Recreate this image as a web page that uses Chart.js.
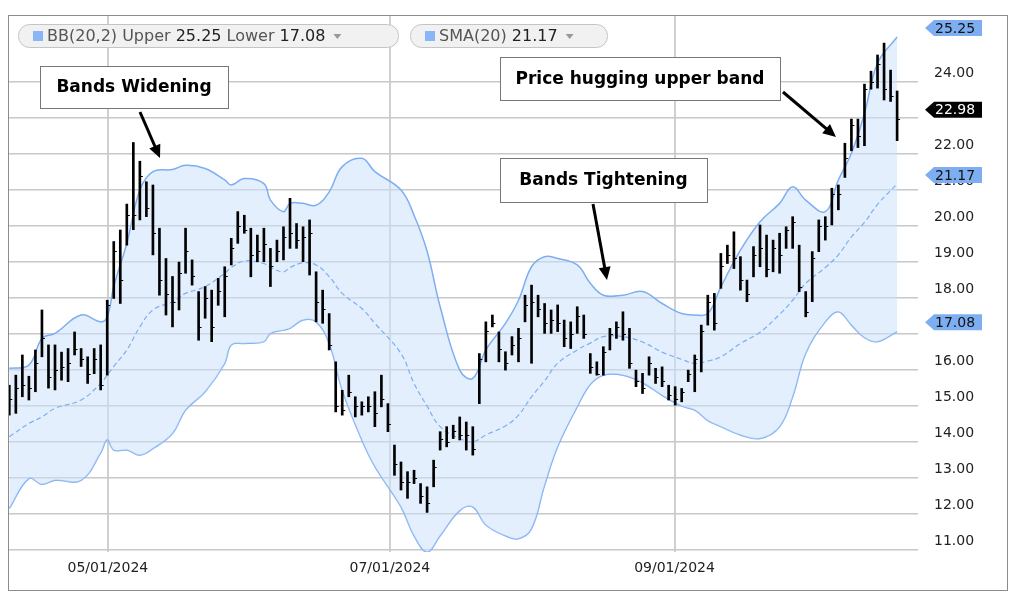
<!DOCTYPE html>
<html>
<head>
<meta charset="utf-8">
<script src="https://cdn.jsdelivr.net/npm/chart.js@4"></script>
<style>
  html, body { margin: 0; padding: 0; background: #fff; }
  #wrap { width: 1024px; height: 603px; }
</style>
</head>
<body>
<div id="wrap"><canvas id="bbChart" width="1024" height="603"></canvas></div>
<script>
// Daily price bars (one per trading day, index 0 = first bar)
const highs = [15.58,15.86,16.42,15.83,16.56,17.67,16.7,16.7,16.5,16.6,17.06,16.6,16.37,16.6,16.7,17.94,19.57,19.89,20.61,22.32,
  21.8,21.23,21.14,19.94,19.1,18.6,19.0,19.94,19.06,18.18,18.32,18.22,18.55,18.87,19.66,20.4,20.3,19.94,19.75,19.94,
  19.38,19.61,19.98,20.77,20.07,19.98,20.17,18.73,18.22,17.57,16.23,15.44,15.86,15.26,15.12,15.26,15.4,15.86,15.07,13.92,
  13.45,13.18,13.22,12.85,12.76,13.5,14.29,14.43,14.47,14.7,14.56,14.43,16.46,17.34,17.53,17.06,16.51,16.93,17.16,18.08,
  18.36,18.08,17.85,17.67,17.81,17.39,17.34,17.76,17.53,16.46,16.23,16.65,17.16,17.34,17.62,17.16,16.0,15.91,16.37,16.05,
  16.09,15.58,15.54,15.49,16.0,16.42,17.25,18.08,18.13,19.24,19.47,19.84,19.15,18.5,19.43,20.03,19.75,19.61,19.8,19.98,
  20.26,19.47,18.18,19.29,20.17,20.26,21.05,21.14,22.3,22.97,22.97,23.94,24.3,24.75,25.08,24.33,23.75];
const lows = [14.75,14.8,15.26,15.17,15.4,16.37,15.5,15.45,15.72,15.68,16.42,16.1,15.63,15.9,15.45,15.86,17.99,17.85,19.47,19.9,
  20.17,20.26,19.2,18.08,17.53,17.2,17.67,18.69,18.36,16.83,17.44,16.79,17.8,17.48,18.92,19.52,19.8,18.59,19.01,19.01,
  18.32,19.01,19.06,19.38,19.38,19.01,18.64,17.34,17.3,16.56,14.84,14.75,15.26,14.7,14.75,14.84,14.43,14.98,14.29,13.08,
  12.67,12.44,12.85,12.3,12.05,12.76,13.78,13.87,14.1,14.06,13.78,13.64,15.07,16.23,17.2,16.23,16.0,16.42,16.23,17.34,
  16.19,17.48,17.02,17.02,17.07,16.65,16.6,17.02,16.88,15.91,15.86,15.86,16.56,16.88,16.83,16.05,15.54,15.35,15.86,15.63,
  15.54,15.17,15.03,15.12,15.68,15.4,15.95,17.25,17.11,18.27,18.96,18.82,18.22,17.9,18.59,18.87,18.59,18.73,18.69,19.38,
  19.38,18.18,17.48,17.9,19.29,19.61,20.03,20.45,21.35,22.09,22.18,22.23,23.8,23.83,23.5,23.46,22.37];
const closes = [15.2,15.5,15.6,15.5,16.2,16.9,15.8,16.0,16.1,16.2,16.6,16.3,15.9,16.3,15.6,17.8,19.3,18.5,20.3,20.3,
  21.4,20.5,19.8,18.5,18.1,17.9,18.7,19.3,18.6,17.2,18.0,17.2,18.2,18.6,19.4,20.0,19.9,19.2,19.3,19.5,
  18.9,19.3,19.7,19.8,19.6,19.7,19.8,17.9,17.7,16.7,15.0,14.9,15.4,15.0,15.0,15.0,14.8,15.2,14.5,13.4,
  12.9,12.9,13.0,12.5,12.3,13.3,14.1,14.0,14.3,14.2,14.2,13.8,16.3,17.1,17.3,16.6,16.2,16.7,16.9,17.8,
  17.9,17.7,17.3,17.4,17.3,16.9,17.0,17.5,17.0,16.1,15.9,16.5,17.0,17.2,17.0,16.2,15.7,15.5,16.2,15.8,
  15.7,15.3,15.2,15.4,15.9,16.3,17.1,17.9,17.3,18.9,19.2,19.1,18.5,18.1,19.2,19.4,18.8,19.4,19.2,19.9,
  20.1,18.3,17.6,19.1,20.0,20.0,20.9,20.9,21.9,22.8,22.5,23.8,24.0,24.5,23.8,23.6,22.98];

// Bollinger band readings at selected bars (0-based bar index)
const bandIdx = [0,3,5,7,11,14,15,16,18,20,22,25,27,30,33,34,36,39,40,42,43,45,47,49,51,54,56,60,62,64,66,69,71,73,76,78,80,82,84,87,
  89,91,94,97,100,103,105,107,109,112,115,118,120,122,125,127,129,131,133,136];
const upperBand = [16.05,16.14,16.88,17.02,17.53,17.34,17.48,18.32,19.52,21.0,21.51,21.57,21.69,21.6,21.28,21.14,21.32,21.18,20.72,20.4,
  20.63,20.63,20.58,20.95,21.65,21.88,21.51,21.0,20.3,19.3,17.76,16.0,15.77,16.56,17.3,17.94,18.87,19.15,19.1,18.92,
  18.41,18.08,18.08,18.18,17.85,17.57,17.53,17.57,18.31,19.33,20.12,20.63,21.09,20.72,20.4,21.28,22.02,23.13,24.52,25.25];
const smaBand = [14.15,14.52,14.7,14.94,15.17,15.63,15.86,16.1,16.56,17.2,17.67,17.9,18.13,18.32,18.69,18.85,19.03,18.96,18.85,18.73,
  18.85,18.98,18.92,18.6,18.13,17.71,17.3,16.46,15.63,15.0,14.43,14.1,14.01,14.2,14.45,14.75,15.26,15.7,16.19,16.56,
  16.75,16.93,16.93,16.78,16.5,16.3,16.19,16.25,16.37,16.74,17.05,17.55,17.94,18.41,18.85,19.2,19.7,20.1,20.6,21.17];
const lowerBand = [12.16,12.99,12.83,12.94,12.94,13.7,14.07,13.78,13.78,13.64,13.82,14.24,14.89,15.4,16.19,16.7,16.74,16.79,17.02,17.11,
  17.16,17.39,17.34,16.74,15.44,14.06,13.32,12.2,11.4,10.95,11.4,12.1,12.2,11.7,11.4,11.32,11.6,12.8,13.87,14.98,
  15.6,15.86,15.86,15.65,15.3,15.0,14.89,14.6,14.43,14.2,14.1,14.43,15.26,16.46,17.34,17.62,17.25,16.9,16.79,17.07];

const yTicks = [11,12,13,14,15,16,17,18,19,20,21,22,23,24];
const dateTicks = [15.1, 58.3, 101.9];
const dateLabels = ['05/01/2024', '07/01/2024', '09/01/2024'];
const lastUpper = 25.25, lastLower = 17.08, lastSma = 21.17, lastClose = 22.98;

const BLUE = '#7eaef2';
const FILL = 'rgba(205,225,252,0.55)';
const FONT = '"DejaVu Sans", Verdana, sans-serif';

const pts = (arr) => arr.map((v, i) => ({ x: bandIdx[i], y: v }));
const barPts = highs.map((h, i) => ({ x: i, y: [lows[i], h] }));

function arrow(ctx, x1, y1, x2, y2) {
  const a = Math.atan2(y2 - y1, x2 - x1);
  ctx.strokeStyle = '#000'; ctx.fillStyle = '#000'; ctx.lineWidth = 3;
  ctx.beginPath(); ctx.moveTo(x1, y1);
  ctx.lineTo(x2 - 9 * Math.cos(a), y2 - 9 * Math.sin(a)); ctx.stroke();
  ctx.beginPath(); ctx.moveTo(x2, y2);
  ctx.lineTo(x2 - 13 * Math.cos(a) + 6 * Math.sin(a), y2 - 13 * Math.sin(a) - 6 * Math.cos(a));
  ctx.lineTo(x2 - 13 * Math.cos(a) - 6 * Math.sin(a), y2 - 13 * Math.sin(a) + 6 * Math.cos(a));
  ctx.closePath(); ctx.fill();
}

function noteBox(ctx, x, y, w, h, text) {
  ctx.fillStyle = '#fff'; ctx.fillRect(x, y, w, h);
  ctx.strokeStyle = '#777'; ctx.lineWidth = 1; ctx.strokeRect(x + 0.5, y + 0.5, w, h);
  ctx.fillStyle = '#000'; ctx.font = 'bold 17px "DejaVu Sans", sans-serif';
  ctx.textAlign = 'center'; ctx.textBaseline = 'middle';
  ctx.fillText(text, x + w / 2, y + h / 2 + 1);
}

function pill(ctx, x, y, w, parts) {
  ctx.fillStyle = '#f1f1f1'; ctx.strokeStyle = '#c4c4c4'; ctx.lineWidth = 1;
  ctx.beginPath(); ctx.roundRect(x + 0.5, y + 0.5, w, 23, 11); ctx.fill(); ctx.stroke();
  ctx.fillStyle = '#8ab6f7'; ctx.fillRect(x + 15, y + 7, 10, 10);
  ctx.font = '16px ' + FONT; ctx.textBaseline = 'middle'; ctx.textAlign = 'left';
  let cx = x + 29;
  parts.forEach(([t, c]) => { ctx.fillStyle = c; ctx.fillText(t, cx, y + 12.5); cx += ctx.measureText(t).width; });
  ctx.fillStyle = '#999';
  ctx.beginPath(); ctx.moveTo(cx + 8, y + 10); ctx.lineTo(cx + 16, y + 10); ctx.lineTo(cx + 12, y + 15); ctx.closePath(); ctx.fill();
}

function badge(ctx, yScale, value, bg, fg) {
  const y = yScale.getPixelForValue(value) - 9;
  ctx.fillStyle = bg;
  ctx.beginPath(); ctx.moveTo(925, y); ctx.lineTo(934, y - 8); ctx.lineTo(982, y - 8);
  ctx.lineTo(982, y + 8); ctx.lineTo(934, y + 8); ctx.closePath(); ctx.fill();
  ctx.fillStyle = fg; ctx.font = '14px ' + FONT; ctx.textAlign = 'left'; ctx.textBaseline = 'middle';
  ctx.fillText(value.toFixed(2), 935, y + 1);
}

const overlay = {
  id: 'overlay',
  afterDatasetsDraw(chart) {
    const { ctx, scales: { x, y } } = chart;
    // close ticks
    ctx.save();
    ctx.strokeStyle = '#000'; ctx.lineWidth = 1;
    closes.forEach((c, i) => {
      const px = x.getPixelForValue(i), py = Math.round(y.getPixelForValue(c)) + 0.5;
      ctx.beginPath(); ctx.moveTo(px, py); ctx.lineTo(px + 3, py); ctx.stroke();
    });
    ctx.restore();
  },
  afterDraw(chart) {
    const { ctx, scales: { y } } = chart;
    ctx.save();
    ctx.strokeStyle = '#8c8c8c'; ctx.lineWidth = 1;
    ctx.strokeRect(8.5, 15.5, 999, 575);
    pill(ctx, 18, 24, 380, [['BB(20,2) Upper ', '#555'], ['25.25', '#222'], [' Lower ', '#555'], ['17.08', '#222']]);
    pill(ctx, 410, 24, 197, [['SMA(20) ', '#555'], ['21.17', '#222']]);
    noteBox(ctx, 40, 66, 188, 42, 'Bands Widening');
    noteBox(ctx, 500, 158, 207, 44, 'Bands Tightening');
    noteBox(ctx, 500, 57, 280, 43, 'Price hugging upper band');
    arrow(ctx, 140, 112, 160, 158);
    arrow(ctx, 593, 204, 607, 280);
    arrow(ctx, 783, 92, 836, 137);
    badge(ctx, y, lastUpper, BLUE, '#111');
    badge(ctx, y, lastClose, '#000', '#fff');
    badge(ctx, y, lastSma, BLUE, '#111');
    badge(ctx, y, lastLower, BLUE, '#111');
    ctx.restore();
  }
};

new Chart(document.getElementById('bbChart'), {
  data: {
    datasets: [
      { type: 'line', data: pts(upperBand), borderColor: BLUE, borderWidth: 1.5, backgroundColor: FILL,
        fill: '+1', pointRadius: 0, tension: 0.4, order: 3 },
      { type: 'line', data: pts(lowerBand), borderColor: BLUE, borderWidth: 1.5, fill: false,
        pointRadius: 0, tension: 0.4, order: 3 },
      { type: 'line', data: pts(smaBand), borderColor: BLUE, borderWidth: 1.2, borderDash: [5, 3], fill: false,
        pointRadius: 0, tension: 0.4, order: 2 },
      { type: 'bar', data: barPts, backgroundColor: '#000', barThickness: 2, order: 1 }
    ]
  },
  options: {
    responsive: false,
    animation: false,
    events: [],
    layout: { padding: { left: 8, top: 15, right: 16, bottom: 13 } },
    plugins: { legend: { display: false }, tooltip: { enabled: false } },
    scales: {
      x: {
        type: 'linear', min: -0.2, max: 139.2, offset: false,
        afterBuildTicks: (s) => { s.ticks = dateTicks.map(v => ({ value: v })); },
        afterFit: (s) => { s.height = 38; s.paddingLeft = 0; s.paddingRight = 0; },
        ticks: { callback: (v) => dateLabels[dateTicks.indexOf(v)], color: '#222', font: { family: FONT, size: 14 }, padding: 8, maxRotation: 0 },
        grid: { color: '#d0d0d0', lineWidth: 2, drawTicks: false, offset: false },
        border: { display: false }
      },
      y: {
        position: 'right', min: 10.95, max: 25.86,
        afterBuildTicks: (s) => { s.ticks = yTicks.map(v => ({ value: v })); },
        afterFit: (s) => { s.width = 90; s.paddingTop = 0; s.paddingBottom = 0; },
        ticks: { callback: (v) => v.toFixed(2), color: '#222', font: { family: FONT, size: 14 }, padding: 16, labelOffset: -9 },
        grid: { color: '#c8c8c8', lineWidth: 1.5, drawTicks: false },
        border: { display: false }
      }
    }
  },
  plugins: [overlay]
});
</script>
</body>
</html>
